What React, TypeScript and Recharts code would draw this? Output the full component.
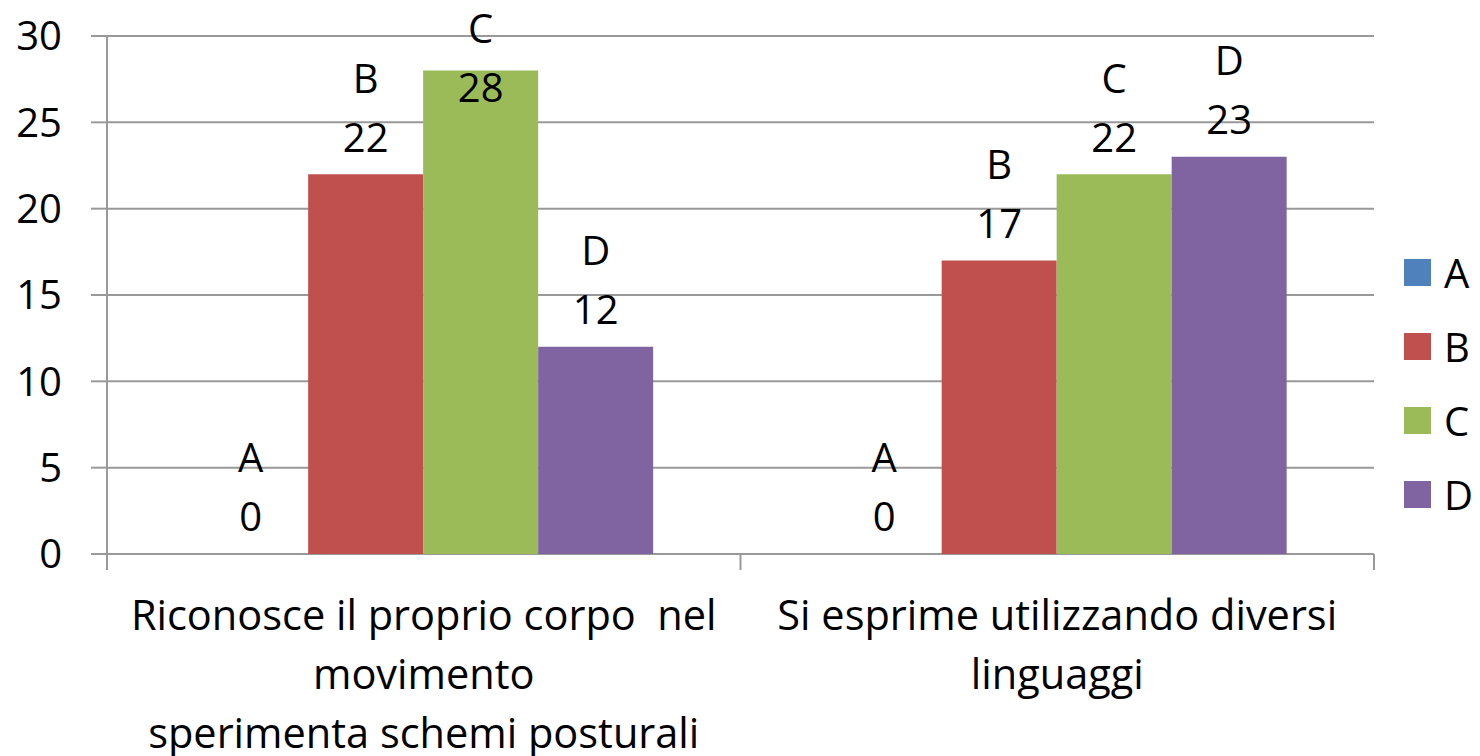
import React from "react";
import { BarChart, Bar, XAxis, YAxis, CartesianGrid, LabelList, ReferenceLine } from "recharts";

const categories = [
  "Riconosce il proprio corpo  nel movimento sperimenta schemi posturali",
  "Si esprime utilizzando diversi linguaggi",
];
const tickLines = [
  ["Riconosce il proprio corpo  nel", "movimento", "sperimenta schemi posturali"],
  ["Si esprime utilizzando diversi", "linguaggi"],
];
const seriesNames = ["A", "B", "C", "D"];
const seriesColors = ["#4F81BD", "#C0504D", "#9BBB59", "#8064A2"];
const valuesA = [0, 0];
const valuesB = [22, 17];
const valuesC = [28, 22];
const valuesD = [12, 23];
const yTicks = [0, 5, 10, 15, 20, 25, 30];

const seriesValues = [valuesA, valuesB, valuesC, valuesD];
const data = categories.map((cat, i) => {
  const row: Record<string, any> = { cat, idx: i };
  seriesNames.forEach((s, k) => (row[s] = seriesValues[k][i]));
  return row;
});

const FONT = "'Open Sans', sans-serif";
const FS = 40;
const GRID = "#999999";

const makeLabel = (name: string) => (props: any) => {
  const { x, y, width, height, value } = props;
  const cx = Number(x) + Number(width) / 2;
  const top = Math.min(Number(y), Number(y) + Number(height));
  const valueY = Math.max(top - 37, 88);
  const nameY = valueY - 59;
  return (
    <text textAnchor="middle" fontFamily={FONT} fontSize={FS} fill="#000">
      <tspan x={cx} y={nameY} dy="0.36em">{name}</tspan>
      <tspan x={cx} y={valueY} dy="0.36em">{value}</tspan>
    </text>
  );
};

const CatTick = (props: any) => {
  const { x, y, payload } = props;
  const lines = tickLines[payload.index] || [];
  return (
    <text
      textAnchor="middle"
      fontFamily={FONT}
      fontSize={41.5}
      fill="#000"
      style={{ whiteSpace: "pre" }}
    >
      {lines.map((l, i) => (
        <tspan key={i} x={x} y={y + 53 + i * 59} dy="0.36em">
          {l}
        </tspan>
      ))}
    </text>
  );
};

// small boundary tick below the category axis
const EdgeTick = (p: any) => {
  const bottom = Math.max(Number(p.y1), Number(p.y2));
  return <line x1={p.x1} x2={p.x1} y1={bottom} y2={bottom + 16} stroke={GRID} strokeWidth={2} />;
};

export default function App() {
  return (
    <div style={{ position: "absolute", left: 0, top: 0, width: 1480, height: 756, background: "#fff" }}>
      <BarChart
        width={1480}
        height={756}
        data={data}
        margin={{ top: 36, right: 106, bottom: 0, left: 0 }}
        barCategoryGap="13.6%"
        barGap={0}
      >
        <CartesianGrid vertical={false} stroke={GRID} strokeWidth={2} />
        <XAxis
          dataKey="cat"
          height={202}
          axisLine={false}
          tickLine={false}
          tick={<CatTick />}
          interval={0}
        />
        <YAxis
          domain={[0, 30]}
          ticks={yTicks}
          width={107}
          tickSize={16}
          tickMargin={29}
          axisLine={{ stroke: GRID, strokeWidth: 2 }}
          tickLine={{ stroke: GRID, strokeWidth: 2 }}
          tick={{ fontFamily: FONT, fontSize: FS, fill: "#000" }}
        />
        {seriesNames.map((s, k) => (
          <Bar
            key={s}
            dataKey={s}
            fill={seriesColors[k]}
            minPointSize={0.01}
            isAnimationActive={false}
          >
            <LabelList dataKey={s} content={makeLabel(s)} />
          </Bar>
        ))}
        <ReferenceLine x={categories[0]} position="start" shape={EdgeTick} ifOverflow="visible" />
        <ReferenceLine x={categories[1]} position="start" shape={EdgeTick} ifOverflow="visible" />
        <ReferenceLine x={categories[1]} position="end" shape={EdgeTick} ifOverflow="visible" />
      </BarChart>
      <div style={{ position: "absolute", left: 1404, top: 235, fontFamily: FONT, fontSize: FS }}>
        {seriesNames.map((s, k) => (
          <div key={s} style={{ display: "flex", alignItems: "center", height: 74 }}>
            <div style={{ width: 27, height: 27, background: seriesColors[k], marginRight: 13 }} />
            <span style={{ lineHeight: "27px" }}>{s}</span>
          </div>
        ))}
      </div>
    </div>
  );
}
